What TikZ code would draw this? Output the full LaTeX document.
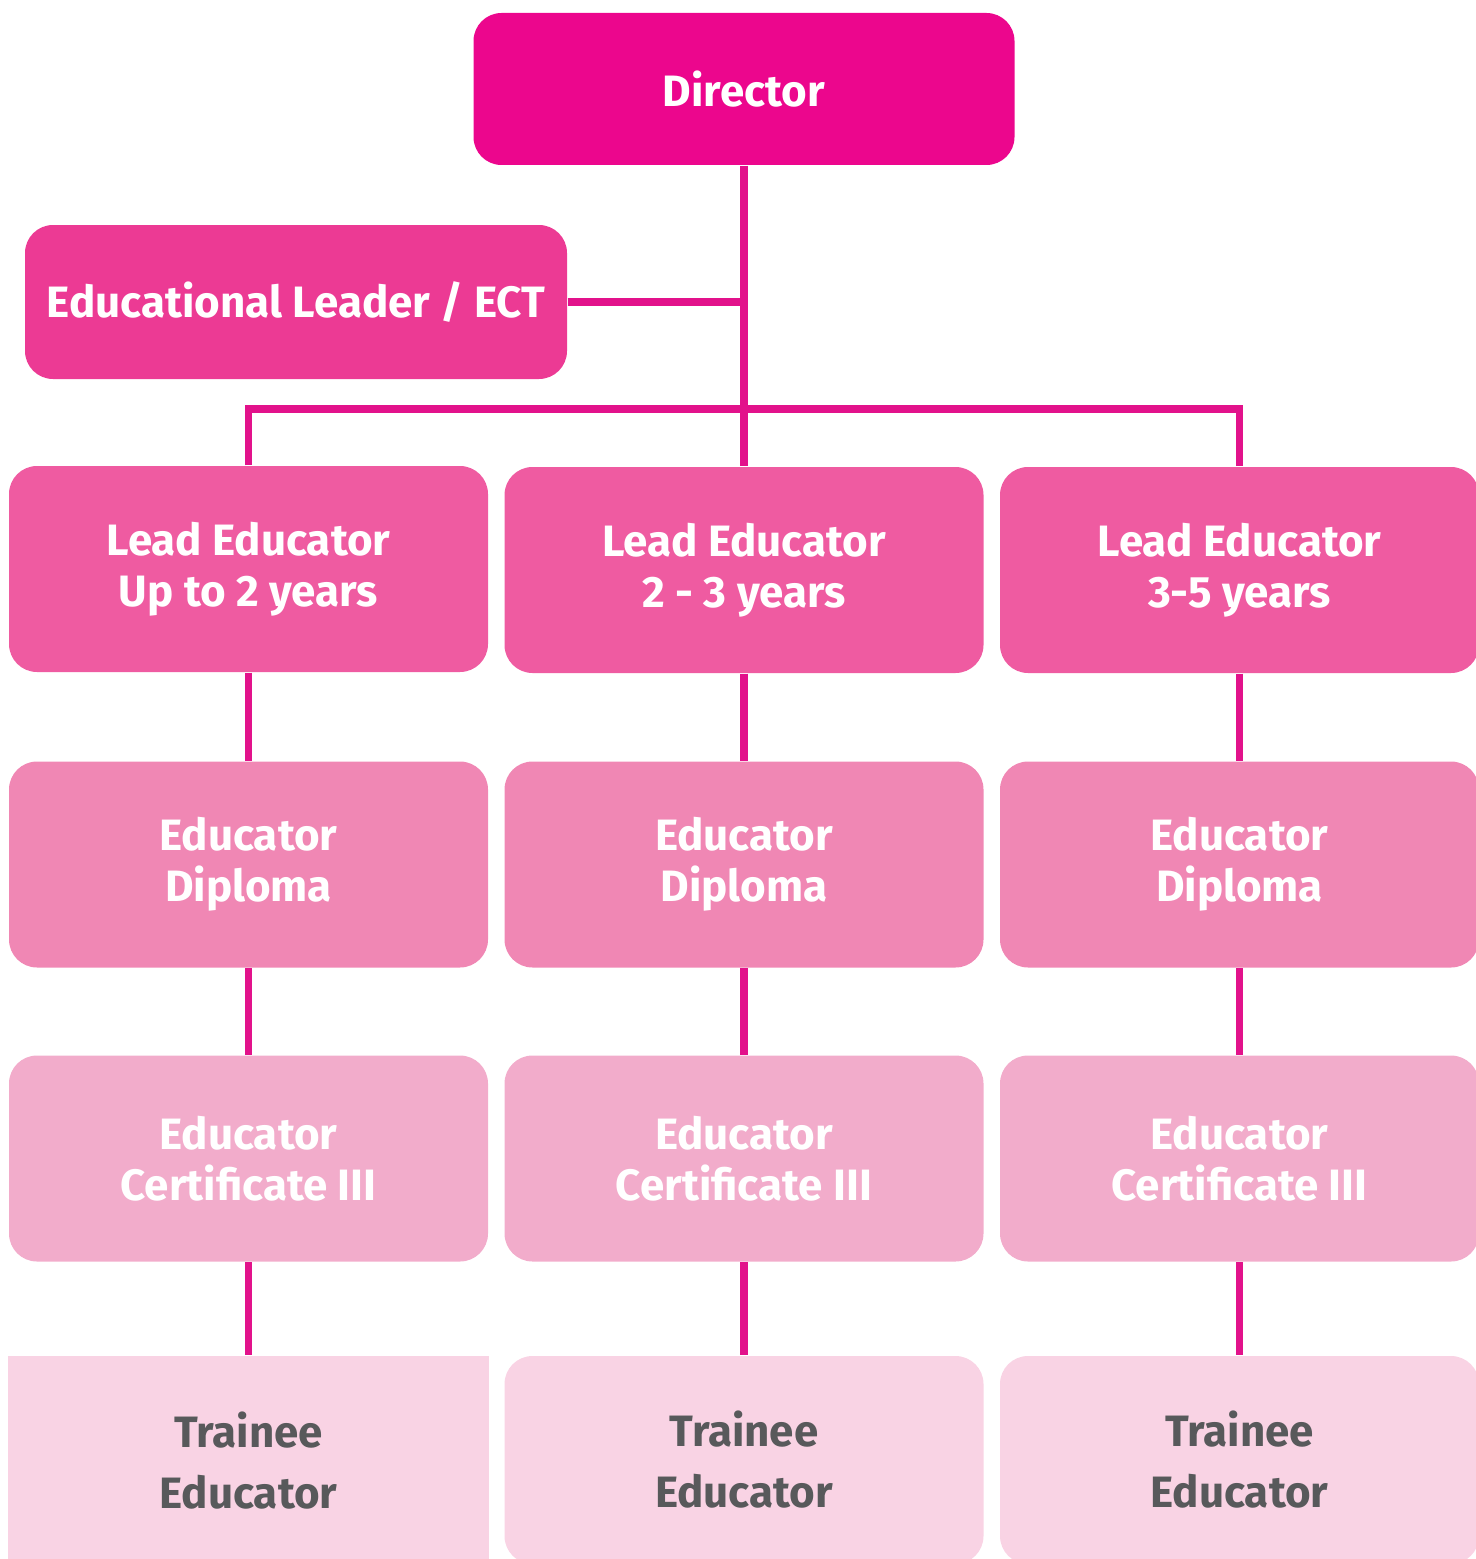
\documentclass[tikz,border=0pt]{standalone}
\usepackage{fontspec}
\setmainfont{Fira Sans}
\definecolor{dirpink}{HTML}{EC068D}
\definecolor{elpink}{HTML}{EC3A94}
\definecolor{leadpink}{HTML}{EF5BA1}
\definecolor{dippink}{HTML}{F087B4}
\definecolor{certpink}{HTML}{F2ACCB}
\definecolor{trnpink}{HTML}{F9D3E4}
\definecolor{linepink}{HTML}{E2128B}
\definecolor{trngray}{HTML}{58595B}
\tikzset{
  rolebox/.style={rounded corners=0.28cm, minimum width=4.79cm, minimum height=2.06cm,
    align=center, text=white, font=\bfseries\fontsize{12.5}{14.5}\selectfont, inner sep=0pt},
  link/.style={draw=linepink, line width=2pt}
}
\begin{document}
\begin{tikzpicture}
    % Page frame, same size as the chart
    \useasboundingbox (0,0) rectangle (14.75,-15.59);

    % Top of the chart
    \node[rolebox, fill=dirpink, minimum width=5.41cm, minimum height=1.52cm] (dir) at (7.44,-0.89) {Director};
    \node[rolebox, fill=elpink, minimum width=5.42cm, minimum height=1.54cm] (edl) at (2.96,-3.02) {Educational Leader / ECT};

    % Three columns of roles
    \node[rolebox, fill=leadpink] (lead1) at (2.485,-5.69) {Lead Educator\\Up to 2 years};
    \node[rolebox, fill=leadpink] (lead2) at (7.44,-5.70) {Lead Educator\\2 - 3 years};
    \node[rolebox, fill=leadpink] (lead3) at (12.395,-5.70) {Lead Educator\\3-5 years};

    \foreach \col/\x in {1/2.485, 2/7.44, 3/12.395} {
      \node[rolebox, fill=dippink] (dip\col) at (\x,-8.645) {Educator\\Diploma};
      \node[rolebox, fill=certpink] (cert\col) at (\x,-11.585) {Educator\\Certificate III};
    }
    \node[rolebox, fill=trnpink, text=trngray, sharp corners, minimum width=4.81cm, minimum height=2.1cm] (trn1) at (2.485,-14.61) {Trainee\\[0.1cm]Educator};
    \node[rolebox, fill=trnpink, text=trngray, minimum height=2.08cm] (trn2) at (7.44,-14.60) {Trainee\\[0.1cm]Educator};
    \node[rolebox, fill=trnpink, text=trngray, minimum height=2.08cm] (trn3) at (12.395,-14.60) {Trainee\\[0.1cm]Educator};

    % Connectors
    \draw[link] (dir.south) -- (lead2.north);
    \draw[link] (edl.east) -- (edl.east -| dir.south);
    \draw[link] (lead1.north) -- (lead1.north |- 0,-4.09) -| (lead3.north);
    \foreach \col in {1,2,3} {
      \draw[link] (lead\col.south) -- (dip\col.north);
      \draw[link] (dip\col.south) -- (cert\col.north);
      \draw[link] (cert\col.south) -- (trn\col.north);
    }
\end{tikzpicture}
\end{document}
